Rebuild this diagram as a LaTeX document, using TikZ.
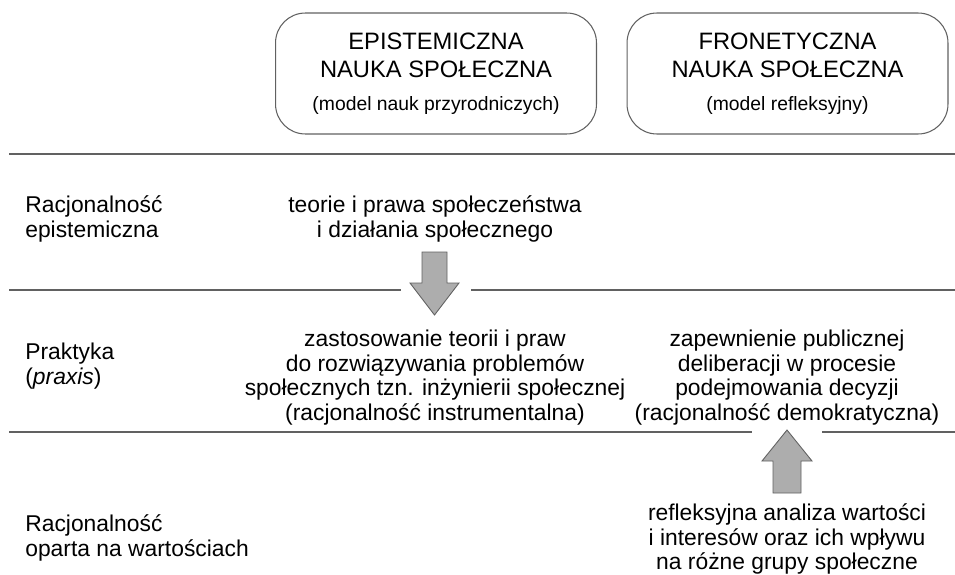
\documentclass[tikz,border=0pt]{standalone}
\usepackage{fontspec}
\setmainfont{Liberation Sans}
\usepackage{tikz}

\definecolor{linia}{gray}{0.38}
\definecolor{wypelnienie}{gray}{0.68}

\tikzset{
  kolumna/.style={draw=linia, line width=0.6pt, rounded corners=17pt,
    minimum width=6.42cm, minimum height=2.42cm, align=center,
    font=\fontsize{13.5}{16}\selectfont},
  opis/.style={align=center, inner sep=0pt, font=\fontsize{13}{14}\selectfont},
  etykieta/.style={align=left, anchor=west, inner sep=0pt, font=\fontsize{13}{14.4}\selectfont},
  granica/.style={draw=linia, line width=0.85pt},
  strzalka/.style={draw=linia, fill=wypelnienie, line width=0.5pt}
}

\begin{document}
\begin{tikzpicture}[x=0.02cm, y=-0.02cm]
        \useasboundingbox (0,0) rectangle (955,574);
        % naglowki kolumn
        \node[kolumna] (epist) at (436,73.5) {EPISTEMICZNA\\NAUKA SPOŁECZNA\\[3pt]{\fontsize{11}{13}\selectfont (model nauk przyrodniczych)}};
        \node[kolumna] (fronet) at (787.5,73.5) {FRONETYCZNA\\NAUKA SPOŁECZNA\\[3pt]{\fontsize{11}{13}\selectfont (model refleksyjny)}};
        % linie podzialu
        \draw[granica] (9,154) -- (955,154);
        \draw[granica] (9,290) -- (401,290);
        \draw[granica] (471,290) -- (955,290);
        \draw[granica] (9,432) -- (752,432);
        \draw[granica] (822,432) -- (955,432);
        % etykiety wierszy
        \node[etykieta] (rEpist) at (25,219) {Racjonalność\\epistemiczna};
        \node[etykieta] (praktyka) at (25,366) {Praktyka\\(\textit{praxis})};
        \node[etykieta] (rWart) at (25,538) {Racjonalność\\oparta na wartościach};
        % tresc
        \node[opis] (teorie) at (435,219) {teorie i prawa społeczeństwa\\i działania społecznego};
        \node[opis] (zastos) at (435,377.5) {zastosowanie teorii i praw\\do rozwiązywania problemów\\społecznych tzn. inżynierii społecznej\\(racjonalność instrumentalna)};
        \node[opis] (delib) at (787,377.5) {zapewnienie publicznej\\deliberacji w procesie\\podejmowania decyzji\\(racjonalność demokratyczna)};
        \node[opis] (analiza) at (787,539) {refleksyjna analiza wartości\\i interesów oraz ich wpływu\\na różne grupy społeczne};
        % strzalki
        \draw[strzalka] (422,252) -- (447,252) -- (447,283) -- (459,283) -- (434.5,315) -- (410,283) -- (422,283) -- cycle;
        \draw[strzalka] (773,493) -- (801,493) -- (801,461) -- (812,461) -- (787,430) -- (762,461) -- (773,461) -- cycle;
\end{tikzpicture}
\end{document}
